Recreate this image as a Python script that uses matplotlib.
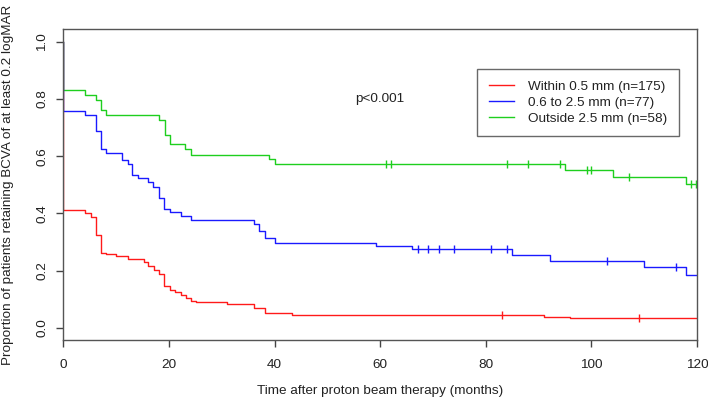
import matplotlib
matplotlib.use("Agg")
import matplotlib.pyplot as plt
from matplotlib.lines import Line2D

plt.rcParams['font.family'] = ['Liberation Sans', 'DejaVu Sans']

# Kaplan-Meier steps (time in months, proportion after the step)
red_times = [0, 4.2, 5.2, 6.1, 7.1, 8.0, 10.0, 12.2, 15.2, 16.1, 17.1, 18.1, 19.1,
             20.2, 21.2, 22.2, 23.2, 24.1, 25.1, 31.0, 36.2, 38.1, 43.3, 91.1, 96.0]
red_surv = [0.412, 0.400, 0.387, 0.326, 0.263, 0.260, 0.253, 0.241, 0.231, 0.217, 0.203,
            0.190, 0.148, 0.134, 0.126, 0.115, 0.106, 0.094, 0.091, 0.084, 0.069, 0.051,
            0.044, 0.040, 0.034]
red_cens_t = [83.1, 109.0]
red_cens_s = [0.044, 0.034]

blue_times = [0, 4.2, 6.1, 7.1, 8.0, 11.2, 12.2, 13.1, 14.1, 16.1, 17.0, 18.1, 19.1,
              20.2, 22.2, 24.1, 36.1, 37.1, 38.1, 40.0, 59.2, 66.0, 85.0, 92.1, 110.0, 118.0]
blue_surv = [0.757, 0.743, 0.689, 0.626, 0.610, 0.587, 0.572, 0.533, 0.522, 0.510, 0.492,
             0.455, 0.417, 0.405, 0.392, 0.377, 0.363, 0.338, 0.313, 0.298, 0.286, 0.275,
             0.254, 0.234, 0.214, 0.186]
blue_cens_t = [67.1, 69.1, 71.1, 74.0, 81.0, 84.1, 103.0, 116.0]
blue_cens_s = [0.275, 0.275, 0.275, 0.275, 0.275, 0.275, 0.234, 0.214]

green_times = [0, 4.2, 6.1, 7.1, 8.0, 18.1, 19.2, 20.2, 23.1, 24.1, 39.0, 40.1, 95.0, 104.0, 118.0]
green_surv = [0.830, 0.813, 0.795, 0.760, 0.743, 0.725, 0.673, 0.642, 0.624, 0.604, 0.589,
              0.572, 0.551, 0.527, 0.502]
green_cens_t = [61.1, 62.0, 84.1, 88.0, 94.0, 99.1, 100.0, 107.1, 118.9, 119.8]
green_cens_s = [0.572, 0.572, 0.572, 0.572, 0.572, 0.551, 0.551, 0.527, 0.502, 0.502]

labels = ["Within 0.5 mm (n=175)", "0.6 to 2.5 mm (n=77)", "Outside 2.5 mm (n=58)"]
colors = ["#ff1a1a", "#1a1aff", "#1ecf1e"]
t_end = 120

fig = plt.figure(figsize=(7.08, 4.07), dpi=100)
ax = fig.add_axes([0.0894, 0.1646, 0.8951, 0.7641])


def km(times, surv, ct, cs, color):
    x = [0] + times + [t_end]
    y = [1.0] + surv + [surv[-1]]
    ax.step(x, y, where='post', color=color, lw=1.0)
    ax.plot(ct, cs, ls='none', marker='|', ms=6, mew=1.0, color=color)


km(red_times, red_surv, red_cens_t, red_cens_s, colors[0])
km(green_times, green_surv, green_cens_t, green_cens_s, colors[2])
km(blue_times, blue_surv, blue_cens_t, blue_cens_s, colors[1])

ax.set_xlim(0, 120)
ax.set_ylim(-0.042, 1.044)
ax.set_xticks([0, 20, 40, 60, 80, 100, 120])
ax.set_yticks([0.0, 0.2, 0.4, 0.6, 0.8, 1.0])
ax.set_yticklabels(["0.0", "0.2", "0.4", "0.6", "0.8", "1.0"], rotation=90, va='center')
ax.tick_params(direction='out', length=5, width=1, colors='#444444', labelsize=9.7,
               labelcolor='#222222')
ax.tick_params(axis='x', pad=9)
ax.tick_params(axis='y', pad=6)
for s in ax.spines.values():
    s.set_color('#555555')
    s.set_linewidth(1)

ax.set_xlabel("Time after proton beam therapy (months)", fontsize=9.7, color='#222222', labelpad=10)
ax.set_ylabel("Proportion of patients retaining BCVA of at least 0.2 logMAR", fontsize=9.7,
              color='#222222')
ax.yaxis.set_label_coords(-0.078, 0.5)

ax.text(60, 0.80, "p<0.001", fontsize=9.7, color='#222222', va='center', ha='center')

handles = [Line2D([0], [0], color=c, lw=1) for c in colors]
leg = ax.legend(handles, labels, loc='upper right', bbox_to_anchor=(0.971, 0.871),
                fontsize=9.7, frameon=True, fancybox=False, handlelength=1.9,
                handletextpad=1.0, labelspacing=0.25, borderpad=0.85, borderaxespad=0)
leg.get_frame().set_edgecolor('#444444')
leg.get_frame().set_linewidth(1)
for t in leg.get_texts():
    t.set_color('#222222')

fig.savefig("out.png", dpi=100)
